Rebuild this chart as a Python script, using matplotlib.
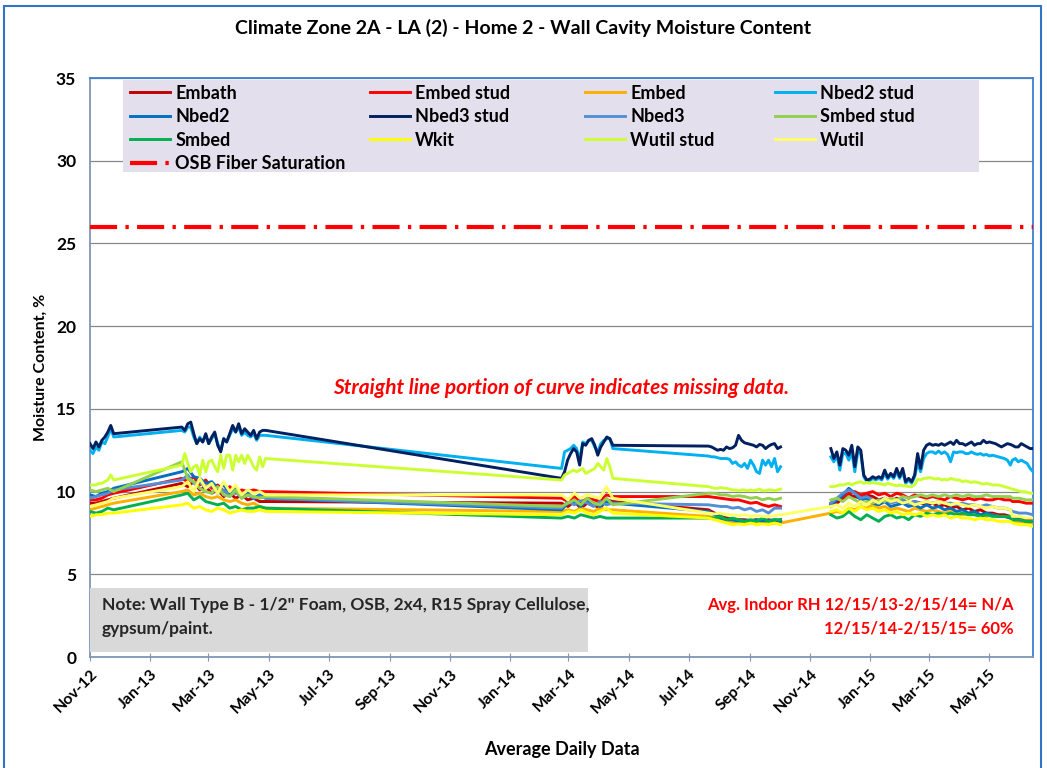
import numpy as np
import pandas as pd
import matplotlib
matplotlib.use('Agg')
import matplotlib.pyplot as plt
import matplotlib.dates as mdates
from matplotlib.lines import Line2D
from matplotlib.patches import Rectangle

plt.rcParams['font.family'] = ['Lato', 'DejaVu Sans']
plt.rcParams['font.weight'] = 'bold'

# logging periods (start, end); the gaps between them are bridged by straight lines
segments = [
    ('2012-11-01', '2012-11-25'),
    ('2013-02-02', '2013-04-28'),
    ('2014-02-22', '2014-04-15'),
    ('2014-07-21', '2014-10-02'),
    ('2014-11-22', '2015-05-23'),
    ('2015-05-25', '2015-06-15'),
]

# daily-average moisture content (%), one list per logging period
embath = [
    [9.3, 9.3, 9.4, 9.5, 9.6],
    [10.5, 10.3, 10.6, 10.1, 10.3, 9.9, 10.1, 9.7, 9.9, 9.6, 9.8, 9.5, 9.6, 9.4, 9.4],
    [9.3, 9.1, 9.4, 9.0, 9.3, 9.2, 9.0, 9.5, 9.4],
    [8.9, 8.7, 8.5, 8.4, 8.35, 8.3, 8.3, 8.25, 8.3, 8.2, 8.3, 8.2, 8.3],
    [9.1, 9.3, 9.6, 9.8, 9.7, 9.6, 9.8, 9.7, 9.5, 9.6, 9.4, 9.6, 9.5, 9.3, 9.4, 9.3,
     9.2, 9.3, 9.1, 9.2, 9.0, 9.1, 8.9, 9.0, 8.8, 8.9, 8.7, 8.7, 8.6, 8.6, 8.5],
    [8.4, 8.4, 8.3, 8.3],
]
embed_stud = [
    [9.5, 9.5, 9.6, 9.8, 9.9],
    [10.8, 10.6, 10.9, 10.4, 10.7, 10.2, 10.4, 10.0, 10.3, 9.9, 10.1, 10.0, 10.1, 10.0, 10.0],
    [9.6, 9.4, 9.7, 9.3, 9.6, 9.5, 9.4, 9.8, 9.7],
    [9.7, 9.65, 9.6, 9.55, 9.5, 9.5, 9.4, 9.3, 9.35, 9.2, 9.1, 9.2, 9.1],
    [9.3, 9.5, 9.7, 9.9, 10.0, 9.8, 9.9, 10.0, 9.8, 9.9, 9.7, 9.9, 9.8, 9.6, 9.8, 9.7,
     9.6, 9.7, 9.6, 9.5, 9.7, 9.6, 9.5, 9.6, 9.5, 9.6, 9.5, 9.5, 9.6, 9.5, 9.5],
    [9.4, 9.4, 9.3, 9.3],
]
embed = [
    [8.9, 9.0, 9.1, 9.2, 9.3],
    [10.0, 10.1, 9.8, 9.9, 9.7, 9.6, 9.7, 9.5, 9.4, 9.5, 9.3, 9.2, 9.3, 9.1, 9.0],
    [8.8, 8.9, 8.8, 9.0, 8.9, 8.8, 9.0, 8.9, 8.9],
    [8.5, 8.4, 8.3, 8.2, 8.15, 8.1, 8.1, 8.1, 8.05, 8.1, 8.05, 8.1, 8.1],
    [8.7, 8.8, 8.7, 9.0, 8.9, 9.1, 9.0, 9.2, 9.0, 9.1, 8.9, 9.0, 8.9, 8.8, 9.0, 8.9,
     8.8, 8.9, 8.8, 8.7, 8.8, 8.7, 8.6, 8.7, 8.6, 8.6, 8.5, 8.6, 8.5, 8.5, 8.4],
    [8.2, 8.2, 8.1, 8.1],
]
nbed2_stud = [
    [12.5, 12.3, 12.7, 12.5, 13.0, 12.9, 13.3, 13.8, 13.3],
    [13.7, 13.6, 13.9, 13.9, 13.3, 12.9, 13.3, 13.0, 13.4, 12.9, 13.2, 13.5, 12.9, 12.5, 13.2,
     13.0, 13.4, 13.8, 13.6, 13.9, 13.4, 13.6, 13.4, 13.3, 13.5, 13.1, 13.4, 13.4, 13.4],
    [11.4, 12.4, 12.5, 12.6, 12.8, 12.6, 11.9, 13.0, 12.9, 13.1, 13.1, 12.7, 12.4, 12.9, 13.1,
     13.2, 13.2, 12.6],
    [12.15, 12.1, 12.1, 12.05, 12.0, 12.0, 12.0, 11.95, 11.7, 11.8, 11.6, 11.5, 11.7, 11.4,
     11.9, 11.6, 11.2, 11.1, 11.9, 11.6, 11.9, 11.5, 12.0, 11.2, 11.5],
    [12.1, 11.8, 12.2, 11.3, 12.3, 12.3, 11.9, 12.4, 11.2, 12.4, 12.3, 10.9, 10.6, 10.65,
     10.8, 10.7, 10.8, 10.7, 11.1, 10.75, 11.0, 10.8, 11.2, 10.8, 11.2, 10.5, 10.7, 10.5,
     10.9, 11.7, 11.2, 12.0, 12.3, 12.4,
     12.4, 12.3, 12.45, 12.3, 12.4, 12.25, 11.8, 12.4, 12.35, 12.4, 12.4, 12.3, 12.3, 12.4,
     12.3, 12.25, 12.3, 12.2, 12.25, 12.15, 12.2, 12.15, 12.1, 12.05, 12.0, 11.9, 11.6],
    [11.9, 12.0, 11.8, 11.9, 11.8, 11.7, 11.4, 11.2],
]
nbed2 = [
    [9.8, 9.7, 9.9, 10.0, 10.2],
    [11.2, 11.4, 10.9, 10.8, 10.5, 10.6, 10.2, 10.4, 9.9, 10.3, 9.8, 9.9, 9.6, 9.8, 9.6],
    [8.9, 9.3, 9.4, 9.1, 9.5, 9.3, 9.1, 9.4, 9.3],
    [8.8, 8.6, 8.4, 8.3, 8.3, 8.2, 8.25, 8.2, 8.3, 8.2, 8.25, 8.3, 8.2],
    [9.2, 9.5, 9.8, 10.2, 9.9, 9.5, 9.6, 9.3, 9.2, 9.4, 9.1, 9.2, 9.3, 9.1, 9.2, 9.0,
     9.2, 9.0, 9.1, 8.9, 9.0, 8.8, 8.9, 8.7, 8.8, 8.6, 8.7, 8.6, 8.5, 8.5, 8.4],
    [8.3, 8.3, 8.2, 8.2],
]
nbed3_stud = [
    [12.9, 12.6, 13.0, 12.7, 13.1, 13.3, 13.6, 14.0, 13.5],
    [13.9, 13.7, 14.1, 14.2, 13.5, 12.9, 13.2, 13.0, 13.5, 12.9, 13.3, 13.6, 12.8, 12.4, 13.2,
     13.0, 13.5, 14.0, 13.6, 14.1, 13.5, 13.8, 13.6, 13.4, 13.7, 13.2, 13.6, 13.7, 13.7],
    [10.8, 11.2, 11.9, 12.3, 12.6, 12.4, 11.6, 12.9, 12.8, 13.1, 13.2, 12.8, 12.2, 12.7, 13.0,
     13.3, 13.2, 12.8],
    [12.75, 12.7, 12.6, 12.5, 12.55, 12.5, 12.7, 12.6, 12.65, 12.8, 13.4, 13.1, 12.95, 12.9,
     12.85, 12.8, 12.7, 12.85, 12.8, 12.6, 12.75, 12.85, 12.9, 12.6, 12.7],
    [12.6, 12.0, 12.4, 11.6, 12.6, 12.5, 12.2, 12.8, 11.5, 12.7, 12.5, 11.0, 10.7, 10.75,
     10.9, 10.8, 10.9, 10.8, 11.3, 10.85, 11.1, 10.9, 11.4, 10.9, 11.4, 10.6, 10.8, 10.6,
     11.0, 12.3, 11.4, 12.5, 12.8, 12.9,
     12.8, 12.85, 12.8, 12.9, 12.8, 12.9, 13.0, 12.85, 13.1, 12.9, 12.9, 12.8, 12.9, 13.0,
     12.8, 12.9, 12.9, 13.1, 12.95, 13.0, 12.95, 12.9, 12.8, 12.7, 12.8, 12.9, 12.85],
    [12.8, 12.7, 12.7, 12.9, 12.8, 12.7, 12.6, 12.6],
]
nbed3 = [
    [9.6, 9.7, 9.8, 9.9, 10.1],
    [10.7, 11.0, 10.5, 10.6, 10.2, 10.4, 9.9, 10.1, 9.7, 10.0, 9.6, 9.8, 9.6, 9.7, 9.6],
    [9.0, 9.4, 9.2, 9.5, 9.3, 9.1, 9.4, 9.2, 9.3],
    [9.2, 9.15, 9.1, 9.1, 9.0, 9.05, 8.9, 9.0, 8.8, 8.9, 8.7, 9.0, 9.0],
    [9.3, 9.6, 9.9, 10.1, 9.9, 9.6, 9.7, 9.5, 9.4, 9.6, 9.3, 9.4, 9.5, 9.3, 9.4, 9.3,
     9.4, 9.3, 9.4, 9.3, 9.3, 9.2, 9.3, 9.2, 9.2, 9.1, 9.2, 9.1, 9.0, 9.0, 8.9],
    [8.8, 8.7, 8.7, 8.6],
]
smbed_stud = [
    [10.1, 10.0, 10.1, 10.2, 10.0],
    [11.8, 10.8, 10.6, 10.2, 10.0, 9.9, 10.3, 9.8, 9.7, 10.1, 9.6, 9.8, 9.7, 9.6, 9.7],
    [9.1, 9.3, 9.5, 9.2, 9.6, 9.3, 9.2, 9.6, 9.2],
    [9.9, 9.9, 9.8, 9.8, 9.7, 9.75, 9.7, 9.6, 9.65, 9.5, 9.6, 9.5, 9.6],
    [9.5, 9.6, 9.4, 9.7, 9.5, 9.3, 9.4, 9.3, 9.5, 9.4, 9.6, 9.5, 9.7, 9.6, 9.7, 9.8,
     9.7, 9.8, 9.7, 9.8, 9.7, 9.8, 9.7, 9.8, 9.7, 9.7, 9.8, 9.7, 9.7, 9.7, 9.7],
    [9.6, 9.6, 9.5, 9.5],
]
smbed = [
    [8.8, 8.7, 8.8, 9.0, 8.9],
    [9.8, 9.9, 9.5, 9.7, 9.4, 9.3, 9.2, 9.3, 9.0, 9.1, 8.9, 9.0, 9.0, 9.1, 9.0],
    [8.4, 8.5, 8.4, 8.6, 8.5, 8.4, 8.5, 8.4, 8.4],
    [8.4, 8.4, 8.5, 8.3, 8.4, 8.3, 8.2, 8.3, 8.2, 8.4, 8.2, 8.3, 8.3],
    [8.6, 8.4, 8.5, 8.8, 8.5, 8.3, 8.6, 8.4, 8.2, 8.5, 8.6, 8.4, 8.5, 8.3, 8.6, 8.5,
     8.7, 8.6, 8.7, 8.6, 8.7, 8.6, 8.7, 8.6, 8.6, 8.5, 8.6, 8.5, 8.5, 8.5, 8.5],
    [8.3, 8.3, 8.2, 8.2],
]
wkit = [
    [8.5, 8.6, 8.6, 8.7, 8.7],
    [9.2, 9.3, 9.0, 9.1, 8.9, 8.8, 9.0, 8.9, 8.7, 8.8, 8.9, 8.8, 8.8, 8.9, 8.8],
    [8.6, 8.8, 8.7, 8.9, 8.7, 8.6, 8.8, 9.0, 8.7],
    [8.4, 8.3, 8.2, 8.1, 8.0, 8.05, 8.0, 8.1, 8.0, 8.05, 8.0, 8.1, 8.0],
    [8.8, 8.9, 8.7, 9.0, 8.8, 9.1, 8.9, 9.0, 8.8, 8.9, 8.7, 8.8, 8.6, 8.7, 8.6, 8.7,
     8.5, 8.6, 8.5, 8.6, 8.4, 8.5, 8.4, 8.4, 8.3, 8.4, 8.3, 8.3, 8.2, 8.2, 8.2],
    [8.1, 8.0, 8.0, 7.9],
]
wutil_stud = [
    [10.4, 10.4, 10.4, 10.5, 10.5, 10.6, 10.7, 11.0, 10.7],
    [11.6, 12.3, 11.7, 11.2, 11.5, 11.6, 11.0, 11.9, 11.2, 11.8, 11.9, 11.5, 11.2, 12.2, 11.4,
     12.2, 12.2, 11.3, 12.2, 11.8, 12.2, 11.7, 12.2, 11.9, 11.5, 11.3, 12.1, 11.5, 12.0],
    [10.7, 11.0, 11.1, 11.2, 11.3, 11.2, 11.3, 11.4, 11.1, 11.2, 11.3, 11.4, 11.7, 11.5, 11.3,
     12.0, 11.5, 10.8],
    [10.3, 10.25, 10.2, 10.2, 10.25, 10.2, 10.2, 10.15, 10.1, 10.1, 10.05, 10.1, 10.1, 10.05,
     10.1, 10.05, 10.1, 10.15, 10.05, 10.05, 10.1, 10.1, 10.05, 10.1, 10.15],
    [10.3, 10.3, 10.35, 10.4, 10.4, 10.45, 10.5, 10.4, 10.5, 10.55, 10.6, 10.5, 10.55, 10.5,
     10.55, 10.5, 10.5, 10.45, 10.4, 10.5, 10.45, 10.4, 10.35, 10.4, 10.35, 10.35, 10.3, 10.3,
     10.4, 10.75, 10.7, 10.8, 10.8, 10.85,
     10.8, 10.75, 10.8, 10.7, 10.75, 10.7, 10.8, 10.75, 10.7, 10.7, 10.6, 10.65, 10.6, 10.55,
     10.6, 10.55, 10.5, 10.45, 10.5, 10.45, 10.4, 10.4, 10.4, 10.35, 10.3, 10.25, 10.2],
    [10.15, 10.1, 10.05, 10.0, 10.0, 9.95, 9.9, 9.9],
]
wutil = [
    [9.1, 9.2, 9.3, 9.4, 9.6],
    [10.3, 10.6, 10.0, 10.8, 10.2, 10.5, 9.9, 10.6, 10.0, 10.4, 9.8, 10.1, 9.9, 10.0, 9.8],
    [9.8, 9.5, 9.9, 9.6, 9.8, 9.7, 9.6, 10.3, 9.6],
    [8.7, 8.65, 8.7, 8.6, 8.6, 8.55, 8.6, 8.5, 8.55, 8.5, 8.5, 8.55, 8.6],
    [9.1, 9.2, 9.0, 9.3, 9.1, 9.4, 9.2, 9.5, 9.3, 9.6, 9.4, 9.5, 9.3, 9.4, 9.2, 9.3,
     9.4, 9.3, 9.4, 9.3, 9.2, 9.3, 9.2, 9.1, 9.2, 9.1, 9.0, 9.1, 9.0, 9.0, 8.9],
    [8.5, 8.5, 8.4, 8.4],
]

osb_fiber_saturation = 26.0

names = ['Embath', 'Embed stud', 'Embed', 'Nbed2 stud', 'Nbed2', 'Nbed3 stud',
         'Nbed3', 'Smbed stud', 'Smbed', 'Wkit', 'Wutil stud', 'Wutil']
colors = ['#C00000', '#FF0000', '#FFB000', '#00B0F0', '#0070C0', '#002060',
          '#558ED5', '#92D050', '#00B050', '#FFFF00', '#CCFF33', '#FFFF66']
data = [embath, embed_stud, embed, nbed2_stud, nbed2, nbed3_stud,
        nbed3, smbed_stud, smbed, wkit, wutil_stud, wutil]
# these two sensors were joined across the Oct-Nov 2014 outage
bridged = ['Embed', 'Wutil']


def build(values, bridge_outage):
    xs, ys = [], []
    for i, ((start, end), vals) in enumerate(zip(segments, values)):
        if i == 4 and not bridge_outage:
            xs.append(pd.Timestamp(start) - pd.Timedelta(days=1))
            ys.append(np.nan)
        xs.extend(pd.date_range(start, end, periods=len(vals)))
        ys.extend(vals)
    return xs, ys


fig = plt.figure(figsize=(10.47, 7.68), dpi=100)
ax = fig.add_axes([0.086, 0.1445, 0.9007, 0.7539])

for name, color, vals in zip(names, colors, data):
    xs, ys = build(vals, name in bridged)
    ax.plot(xs, ys, color=color, lw=2.1, label=name, zorder=3)

osb_style = (0, (6.5, 2.0, 0.8, 2.0))
ax.axhline(osb_fiber_saturation, color='#FF0000', lw=3, ls=osb_style,
           dash_capstyle='butt', zorder=3)

ax.set_xlim(pd.Timestamp('2012-11-01'), pd.Timestamp('2015-06-15'))
ax.set_ylim(0, 35)
ax.set_yticks(range(0, 36, 5))
ax.yaxis.grid(True, color='#888888', lw=0.9, zorder=0)
ax.set_axisbelow(True)

ax.xaxis.set_major_locator(mdates.MonthLocator(bymonth=[1, 3, 5, 7, 9, 11]))
ax.xaxis.set_major_formatter(mdates.DateFormatter('%b-%y'))
plt.setp(ax.get_xticklabels(), rotation=45, ha='right', va='top',
         rotation_mode='anchor', fontsize=11.5, fontweight='bold')
ax.tick_params(axis='x', direction='inout', length=6, color='#8096B8', pad=4)
ax.tick_params(axis='y', length=0, pad=10, labelsize=12.5)

for side in ['left', 'bottom']:
    ax.spines[side].set_color('#8096B8')
    ax.spines[side].set_linewidth(1.3)
for side in ['top', 'right']:
    ax.spines[side].set_color('#3F7FCF')
    ax.spines[side].set_linewidth(1.3)

ax.set_ylabel('Moisture Content, %', fontsize=11.5, fontweight='bold', labelpad=6)
ax.set_xlabel('Average Daily Data', fontsize=13, fontweight='bold', labelpad=18)
fig.text(0.5, 0.9635, 'Climate Zone 2A - LA (2) - Home 2 - Wall Cavity Moisture Content',
         ha='center', va='center', fontsize=14, fontweight='bold')

# legend: lavender panel with four columns filled row by row
ax.add_patch(Rectangle((0.035, 0.838), 0.908, 0.1585, transform=ax.transAxes,
                       facecolor='#E4DFEC', edgecolor='none', zorder=4))
handles = [Line2D([], [], color=c, lw=2.1) for c in colors]
handles.append(Line2D([], [], color='#FF0000', lw=3, ls=osb_style, dash_capstyle='butt'))
labels = names + ['OSB Fiber Saturation']
col_x = [0.0424, 0.2969, 0.5249, 0.7264]
legends = []
for c, x0 in enumerate(col_x):
    idx = list(range(c, len(labels), 4))
    leg = ax.legend([handles[i] for i in idx], [labels[i] for i in idx],
                    loc='upper left', bbox_to_anchor=(x0, 0.9885),
                    frameon=False, borderpad=0, borderaxespad=0,
                    handlelength=2.2, handletextpad=0.3, labelspacing=0.36,
                    prop={'weight': 'bold', 'size': 13})
    leg.set_zorder(5)
    legends.append(leg)
for leg in legends[:-1]:
    ax.add_artist(leg)

ax.text(0.5, 0.465, 'Straight line portion of curve indicates missing data.',
        transform=ax.transAxes, ha='center', va='center', color='#FF0000',
        fontsize=15, fontweight='bold', fontstyle='italic')

ax.add_patch(Rectangle((0.0, 0.0086), 0.528, 0.1104, transform=ax.transAxes,
                       facecolor='#D9D9D9', edgecolor='none', zorder=4))
ax.text(0.0127, 0.069, 'Note: Wall Type B - 1/2" Foam, OSB, 2x4, R15 Spray Cellulose,\n'
        'gypsum/paint.', transform=ax.transAxes, ha='left', va='center',
        color='#262626', fontsize=12.5, fontweight='bold', linespacing=1.55, zorder=5)

ax.text(0.979, 0.069, 'Avg. Indoor RH 12/15/13-2/15/14= N/A\n12/15/14-2/15/15= 60%',
        transform=ax.transAxes, ha='right', va='center', multialignment='right',
        color='#FF0000', fontsize=12, fontweight='bold', linespacing=1.6)

fig.patches.append(Rectangle((4 / 1047, -0.01), 1037 / 1047, 0.006 + 1.0 - 3 / 768,
                             transform=fig.transFigure, facecolor='none',
                             edgecolor='#2E75C5', lw=1.5))

fig.savefig('out.png', dpi=100, facecolor='white')
